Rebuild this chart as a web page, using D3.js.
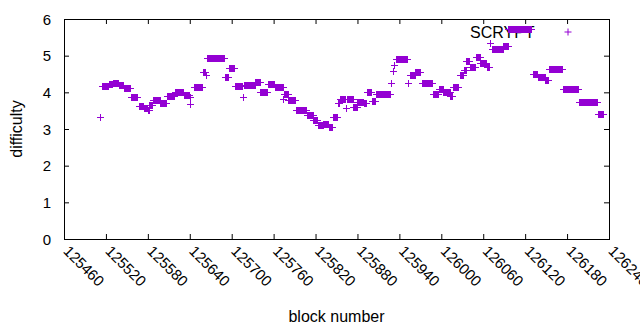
<!DOCTYPE html>
<html lang="en">
<head>
    <meta charset="UTF-8">
    <title>SCRYPT difficulty</title>
    <script src="https://cdnjs.cloudflare.com/ajax/libs/d3/7.8.5/d3.min.js"></script>
    <style>
        body { margin: 0; background: #fff; }
        svg { display: block; font-family: "Liberation Sans", Arial, sans-serif; }
        text { fill: #000; }
    </style>
</head>
<body>
    <svg id="chart" width="640" height="330"></svg>

    <script>
        // difficulty runs: each run is a stretch of blocks with the same difficulty
        const runStart = [125511, 125514, 125524, 125530, 125538, 125546, 125556, 125567, 125574, 125580,
            125582, 125587, 125598, 125607, 125619, 125632, 125640, 125641, 125646, 125659,
            125663, 125665, 125690, 125696, 125705, 125716, 125717, 125734, 125741, 125752,
            125762, 125774, 125775, 125781, 125792, 125808, 125817, 125823, 125831, 125839,
            125845, 125852, 125855, 125864, 125865, 125874, 125880, 125889, 125893, 125901,
            125906, 125928, 125931, 125933, 125935, 125952, 125955, 125963, 125972, 125988,
            125996, 126003, 126013, 126017, 126027, 126032, 126036, 126041, 126049, 126056,
            126065, 126070, 126072, 126089, 126096, 126131, 126138, 126149, 126154, 126174,
            126197, 126224];
        const runEnd = [125511, 125523, 125529, 125537, 125544, 125554, 125564, 125573, 125579, 125581,
            125586, 125597, 125606, 125618, 125631, 125639, 125640, 125641, 125657, 125662,
            125663, 125689, 125694, 125704, 125715, 125716, 125733, 125740, 125751, 125761,
            125773, 125774, 125780, 125791, 125807, 125816, 125822, 125830, 125838, 125843,
            125850, 125854, 125862, 125864, 125873, 125879, 125888, 125892, 125900, 125905,
            125926, 125928, 125931, 125933, 125951, 125952, 125962, 125969, 125987, 125995,
            126002, 126012, 126016, 126024, 126031, 126035, 126039, 126048, 126055, 126064,
            126068, 126070, 126088, 126095, 126129, 126137, 126148, 126153, 126173, 126196,
            126223, 126231];
        const runValue = [3.34, 4.17, 4.23, 4.25, 4.20, 4.12, 3.87, 3.64, 3.57, 3.52,
            3.65, 3.79, 3.70, 3.89, 4.00, 3.94, 3.69, 3.87, 4.14, 4.55,
            4.47, 4.93, 4.41, 4.65, 4.17, 3.88, 4.20, 4.29, 4.02, 4.23,
            4.14, 3.81, 3.95, 3.79, 3.52, 3.38, 3.25, 3.11, 3.14, 3.05,
            3.34, 3.70, 3.81, 3.56, 3.81, 3.61, 3.74, 3.70, 4.00, 3.76,
            3.95, 4.25, 4.59, 4.75, 4.90, 4.25, 4.47, 4.56, 4.25, 3.95,
            4.08, 4.00, 3.90, 4.15, 4.47, 4.61, 4.85, 4.68, 4.97, 4.79,
            4.70, 5.34, 5.17, 5.26, 5.74, 4.50, 4.41, 4.34, 4.63, 4.08,
            3.73, 3.40];

        const xTicks = d3.range(125460, 126241, 60);
        const yTicks = [0, 1, 2, 3, 4, 5, 6];
        const seriesName = "SCRYPT";

        // one point per block
        const points = [];
        runStart.forEach((s, i) => {
            for (let b = s; b <= runEnd[i]; b++) points.push({ block: b, diff: runValue[i] });
        });

        const svg = d3.select("#chart");
        const pLeft = 64, pRight = 609, pTop = 19, pBottom = 239;
        const color = "#9400d3";

        const x = d3.scaleLinear().domain([125460, 126240]).range([pLeft, pRight]);
        const y = d3.scaleLinear().domain([0, 6]).range([pBottom, pTop]);

        svg.append("rect").attr("width", 640).attr("height", 330).attr("fill", "#fff");

        // axes with inward ticks, mirrored on top and right
        const xAxis = svg.append("g")
            .attr("transform", `translate(0,${pBottom})`)
            .call(d3.axisBottom(x).tickValues(xTicks).tickSize(-5).tickFormat(d3.format("d")));
        xAxis.selectAll("text")
            .attr("font-size", 15)
            .attr("text-anchor", "start")
            .attr("x", 0).attr("y", 0).attr("dy", 0)
            .attr("transform", "translate(-2,13) rotate(45)");

        svg.append("g")
            .attr("transform", `translate(0,${pTop})`)
            .call(d3.axisTop(x).tickValues(xTicks).tickSize(-5).tickFormat(""));

        const yAxis = svg.append("g")
            .attr("transform", `translate(${pLeft},0)`)
            .call(d3.axisLeft(y).tickValues(yTicks).tickSize(-5).tickPadding(13).tickFormat(d3.format("d")));
        yAxis.selectAll("text").attr("font-size", 15).attr("dy", "0.35em");

        svg.append("g")
            .attr("transform", `translate(${pRight},0)`)
            .call(d3.axisRight(y).tickValues(yTicks).tickSize(-5).tickFormat(""));

        svg.selectAll(".domain").remove();
        svg.selectAll(".tick line").attr("stroke", "#000");
        svg.selectAll(".tick text").attr("font-family", "Liberation Sans, Arial, sans-serif").attr("fill", "#000");

        svg.append("rect")
            .attr("x", pLeft + 0.5).attr("y", pTop + 0.5)
            .attr("width", pRight - pLeft).attr("height", pBottom - pTop)
            .attr("fill", "none").attr("stroke", "#000");

        // axis titles
        svg.append("text")
            .attr("x", (pLeft + pRight) / 2).attr("y", 322)
            .attr("text-anchor", "middle").attr("font-size", 16)
            .text("block number");
        svg.append("text")
            .attr("transform", "translate(22,129) rotate(-90)")
            .attr("text-anchor", "middle").attr("font-size", 16)
            .text("difficulty");

        const plus = "M-3.5,0H3.5M0,-3.5V3.5";

        // key
        svg.append("text")
            .attr("x", 470).attr("y", 38)
            .attr("font-size", 16)
            .text(seriesName);
        svg.append("path")
            .attr("d", plus)
            .attr("transform", "translate(568,32)")
            .attr("stroke", color).attr("fill", "none");

        // data points
        svg.append("g")
            .selectAll("path")
            .data(points)
            .join("path")
            .attr("d", plus)
            .attr("transform", d => `translate(${Math.round(x(d.block)) + 0.5},${Math.round(y(d.diff)) + 0.5})`)
            .attr("stroke", color)
            .attr("fill", "none");
    </script>
</body>
</html>
